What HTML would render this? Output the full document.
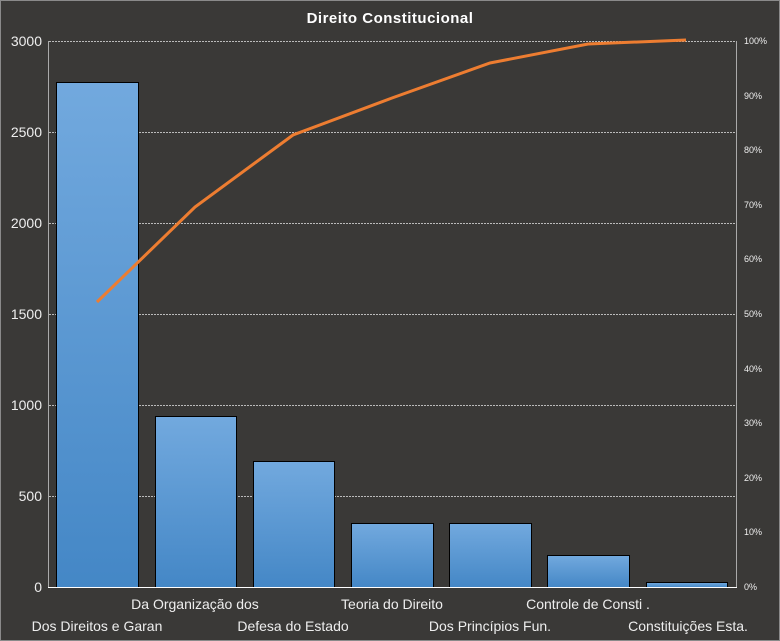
<!DOCTYPE html>
<html><head><style>
body{margin:0;background:#3a3937;}
svg{display:block;font-family:"Liberation Sans",sans-serif;}
</style></head><body>
<svg width="780" height="641" xmlns="http://www.w3.org/2000/svg">
<defs><linearGradient id="g" x1="0" y1="0" x2="0" y2="1"><stop offset="0" stop-color="#72a9de"/><stop offset="1" stop-color="#4487c6"/></linearGradient></defs>
<rect x="0.5" y="0.5" width="779" height="640" fill="#3a3937" stroke="#8a8a8a"/>
<text x="390" y="23" fill="#fff" font-size="15" font-weight="bold" text-anchor="middle" letter-spacing="0.5">Direito  Constitucional</text>
<g stroke="#bbb" stroke-width="1" stroke-dasharray="2,1">
<line x1="49" y1="41.5" x2="736" y2="41.5"/><line x1="49" y1="132.5" x2="736" y2="132.5"/>
<line x1="49" y1="223.5" x2="736" y2="223.5"/><line x1="49" y1="314.5" x2="736" y2="314.5"/>
<line x1="49" y1="405.5" x2="736" y2="405.5"/><line x1="49" y1="496.5" x2="736" y2="496.5"/>
</g>
<line x1="48.5" y1="41" x2="48.5" y2="587" stroke="#aaa"/>
<line x1="736.5" y1="41" x2="736.5" y2="587" stroke="#aaa"/>
<g fill="url(#g)" stroke="#000" stroke-width="1">
<rect x="56.5" y="82.5" width="82" height="505"/>
<rect x="155.5" y="416.5" width="81" height="171"/>
<rect x="253.5" y="461.5" width="81" height="126"/>
<rect x="351.5" y="523.5" width="82" height="64"/>
<rect x="449.5" y="523.5" width="82" height="64"/>
<rect x="547.5" y="555.5" width="82" height="32"/>
<rect x="646.5" y="582.5" width="81" height="5"/>
</g>
<line x1="48" y1="587.5" x2="737" y2="587.5" stroke="#fff"/>
<polyline points="97,302 195,207 293,135 392,98 490,63 588,44 686,40" fill="none" stroke="#ed7d31" stroke-width="3"/>
<g fill="#eee" font-size="14" text-anchor="end">
<text x="42" y="46">3000</text><text x="42" y="137">2500</text><text x="42" y="228">2000</text>
<text x="42" y="319">1500</text><text x="42" y="410">1000</text><text x="42" y="501">500</text><text x="42" y="592">0</text>
</g>
<g fill="#eee" font-size="9">
<text x="744" y="44">100%</text><text x="744" y="99">90%</text><text x="744" y="153">80%</text>
<text x="744" y="208">70%</text><text x="744" y="262">60%</text><text x="744" y="317">50%</text>
<text x="744" y="372">40%</text><text x="744" y="426">30%</text><text x="744" y="481">20%</text>
<text x="744" y="535">10%</text><text x="744" y="590">0%</text>
</g>
<g fill="#eee" font-size="14" text-anchor="middle">
<text x="97" y="631">Dos Direitos e Garan</text>
<text x="195" y="609">Da Organização dos</text>
<text x="293" y="631">Defesa do Estado</text>
<text x="392" y="609">Teoria do Direito</text>
<text x="490" y="631">Dos Princípios Fun.</text>
<text x="588" y="609">Controle de Consti .</text>
<text x="688" y="631">Constituições Esta.</text>
</g>
</svg>
</body></html>
